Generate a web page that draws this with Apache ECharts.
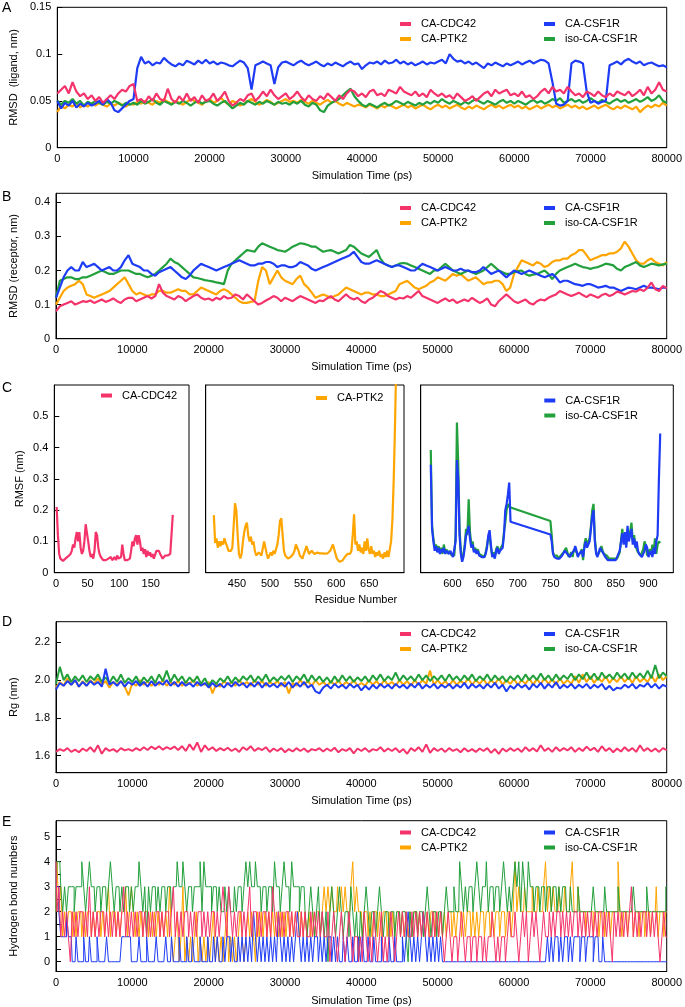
<!DOCTYPE html>
<html><head><meta charset="utf-8">
<script src="https://cdn.jsdelivr.net/npm/echarts@6.0.0/dist/echarts.min.js"></script>
<style>html,body{margin:0;padding:0;background:#fff}#c{width:685px;height:1007px}</style>
</head><body><div id="c"></div>
<script>
// ---------------- DATA ----------------
const seriesNames = ['CA-CDC42', 'CA-PTK2', 'CA-CSF1R', 'iso-CA-CSF1R'];
const timeTicks = [0, 10000, 20000, 30000, 40000, 50000, 60000, 70000, 80000];
const timeStepRMSD = 500;   // ps between samples (panels A, B, D)
const timeStepHB = 250;     // ps between samples (panel E)

// Panel A : RMSD (ligand, nm)
const rmsdLigCDC42 = [
0.058,0.062,0.066,0.058,0.07,0.06,0.055,0.058,0.052,0.056,0.05,0.054,0.048,0.052,0.056,0.052,0.058,0.062,0.06,0.066,
0.068,0.05,0.052,0.048,0.055,0.05,0.058,0.052,0.05,0.063,0.052,0.048,0.055,0.05,0.058,0.05,0.054,0.048,0.056,0.05,
0.052,0.058,0.05,0.054,0.06,0.05,0.045,0.048,0.052,0.05,0.056,0.058,0.05,0.054,0.06,0.055,0.062,0.056,0.052,0.055,
0.058,0.052,0.055,0.06,0.054,0.05,0.056,0.052,0.05,0.055,0.052,0.058,0.054,0.05,0.056,0.052,0.058,0.062,0.06,0.055,
0.058,0.054,0.06,0.062,0.056,0.058,0.055,0.062,0.06,0.058,0.065,0.06,0.058,0.056,0.06,0.055,0.058,0.054,0.062,0.058,
0.055,0.058,0.054,0.056,0.052,0.058,0.054,0.05,0.052,0.055,0.05,0.054,0.058,0.06,0.055,0.062,0.058,0.06,0.062,0.056,
0.058,0.055,0.06,0.054,0.056,0.052,0.055,0.06,0.063,0.058,0.065,0.06,0.062,0.058,0.065,0.06,0.056,0.058,0.054,0.06,
0.058,0.055,0.06,0.056,0.054,0.058,0.055,0.06,0.058,0.056,0.06,0.055,0.058,0.062,0.056,0.065,0.058,0.062,0.07,0.062,
0.06];
const rmsdLigPTK2 = [
0.038,0.045,0.042,0.046,0.044,0.048,0.043,0.046,0.044,0.047,0.045,0.048,0.046,0.044,0.047,0.045,0.048,0.046,0.044,0.047,
0.046,0.049,0.047,0.05,0.048,0.046,0.05,0.048,0.052,0.049,0.047,0.05,0.048,0.046,0.049,0.052,0.05,0.048,0.046,0.05,
0.052,0.048,0.05,0.053,0.049,0.046,0.05,0.048,0.045,0.047,0.05,0.052,0.049,0.046,0.048,0.051,0.049,0.046,0.048,0.05,
0.052,0.049,0.05,0.048,0.051,0.049,0.047,0.05,0.048,0.046,0.049,0.051,0.048,0.05,0.047,0.045,0.048,0.046,0.044,0.046,
0.045,0.043,0.046,0.044,0.042,0.045,0.043,0.046,0.044,0.042,0.044,0.046,0.043,0.045,0.042,0.044,0.046,0.043,0.041,0.044,
0.046,0.043,0.045,0.042,0.044,0.046,0.043,0.041,0.044,0.042,0.045,0.043,0.041,0.044,0.046,0.043,0.045,0.042,0.044,0.046,
0.043,0.045,0.042,0.044,0.041,0.043,0.045,0.042,0.044,0.046,0.043,0.045,0.042,0.044,0.046,0.043,0.045,0.042,0.044,0.041,
0.043,0.045,0.042,0.044,0.046,0.043,0.041,0.044,0.042,0.045,0.043,0.041,0.044,0.038,0.042,0.045,0.043,0.046,0.044,0.048,
0.045];
const rmsdLigCSF1R = [
0.05,0.042,0.048,0.045,0.05,0.043,0.047,0.044,0.048,0.045,0.047,0.05,0.046,0.052,0.048,0.04,0.038,0.042,0.046,0.05,
0.052,0.085,0.097,0.09,0.092,0.088,0.091,0.09,0.096,0.092,0.089,0.087,0.09,0.088,0.093,0.091,0.089,0.093,0.09,0.094,
0.09,0.092,0.089,0.091,0.09,0.088,0.087,0.09,0.093,0.091,0.085,0.062,0.088,0.09,0.092,0.09,0.088,0.068,0.086,0.091,
0.092,0.09,0.088,0.091,0.093,0.09,0.088,0.09,0.092,0.089,0.087,0.09,0.088,0.091,0.089,0.087,0.09,0.092,0.089,0.09,
0.084,0.088,0.091,0.09,0.092,0.089,0.093,0.09,0.091,0.094,0.09,0.092,0.089,0.091,0.088,0.09,0.092,0.089,0.091,0.09,
0.092,0.094,0.09,0.1,0.095,0.092,0.093,0.09,0.092,0.089,0.091,0.088,0.085,0.09,0.088,0.091,0.089,0.087,0.09,0.088,
0.09,0.092,0.089,0.091,0.093,0.09,0.092,0.094,0.093,0.09,0.07,0.047,0.045,0.046,0.05,0.09,0.093,0.092,0.09,0.06,
0.048,0.05,0.047,0.049,0.05,0.088,0.09,0.092,0.089,0.093,0.095,0.092,0.09,0.092,0.088,0.09,0.091,0.089,0.087,0.088,
0.086];
const rmsdLigIso = [
0.05,0.046,0.05,0.048,0.052,0.047,0.05,0.045,0.049,0.047,0.05,0.048,0.046,0.049,0.047,0.05,0.048,0.045,0.048,0.046,
0.048,0.046,0.05,0.047,0.049,0.052,0.048,0.046,0.05,0.048,0.046,0.049,0.047,0.05,0.048,0.045,0.048,0.05,0.047,0.049,
0.05,0.047,0.045,0.048,0.05,0.046,0.042,0.045,0.048,0.046,0.05,0.048,0.046,0.049,0.047,0.05,0.048,0.046,0.049,0.047,
0.048,0.046,0.049,0.047,0.05,0.046,0.044,0.048,0.046,0.04,0.038,0.045,0.048,0.05,0.052,0.056,0.06,0.063,0.055,0.05,
0.046,0.044,0.047,0.045,0.043,0.046,0.048,0.045,0.047,0.05,0.048,0.046,0.049,0.047,0.045,0.048,0.046,0.049,0.047,0.05,
0.048,0.052,0.049,0.047,0.05,0.048,0.046,0.049,0.047,0.05,0.052,0.049,0.047,0.05,0.048,0.046,0.049,0.051,0.048,0.05,
0.047,0.05,0.048,0.046,0.049,0.051,0.048,0.05,0.047,0.049,0.052,0.05,0.053,0.048,0.05,0.052,0.049,0.051,0.048,0.05,
0.053,0.05,0.048,0.051,0.049,0.047,0.05,0.052,0.049,0.051,0.048,0.05,0.052,0.049,0.051,0.054,0.05,0.052,0.056,0.05,
0.048];

// Panel B : RMSD (receptor, nm)
const rmsdRecCDC42 = [
0.08,0.095,0.1,0.105,0.11,0.1,0.105,0.11,0.108,0.112,0.105,0.11,0.115,0.108,0.112,0.118,0.11,0.105,0.115,0.12,
0.12,0.11,0.115,0.12,0.125,0.118,0.125,0.16,0.135,0.125,0.12,0.115,0.125,0.12,0.11,0.118,0.125,0.13,0.12,0.115,
0.118,0.112,0.12,0.115,0.125,0.118,0.12,0.13,0.125,0.115,0.13,0.12,0.11,0.1,0.105,0.112,0.118,0.125,0.12,0.11,
0.12,0.115,0.11,0.118,0.125,0.12,0.115,0.11,0.105,0.112,0.11,0.118,0.125,0.115,0.11,0.12,0.13,0.12,0.115,0.12,
0.11,0.105,0.115,0.12,0.13,0.14,0.135,0.125,0.12,0.115,0.12,0.118,0.125,0.12,0.13,0.14,0.125,0.12,0.115,0.11,
0.105,0.112,0.118,0.11,0.115,0.105,0.11,0.115,0.11,0.12,0.112,0.105,0.11,0.118,0.1,0.095,0.11,0.12,0.13,0.12,
0.11,0.105,0.11,0.115,0.105,0.1,0.11,0.115,0.112,0.12,0.125,0.13,0.14,0.135,0.13,0.125,0.13,0.135,0.128,0.122,
0.13,0.125,0.12,0.128,0.132,0.125,0.13,0.138,0.135,0.13,0.135,0.14,0.138,0.145,0.14,0.15,0.165,0.145,0.14,0.155,
0.148];
const rmsdRecPTK2 = [
0.1,0.12,0.14,0.15,0.155,0.16,0.17,0.16,0.13,0.125,0.12,0.125,0.13,0.135,0.14,0.15,0.16,0.17,0.18,0.16,
0.14,0.13,0.135,0.13,0.125,0.13,0.13,0.14,0.14,0.135,0.135,0.14,0.145,0.14,0.14,0.13,0.13,0.14,0.15,0.145,
0.14,0.135,0.13,0.14,0.145,0.14,0.13,0.12,0.11,0.105,0.105,0.108,0.11,0.17,0.21,0.2,0.16,0.18,0.2,0.18,
0.17,0.165,0.16,0.175,0.185,0.16,0.15,0.135,0.12,0.125,0.13,0.125,0.12,0.125,0.13,0.14,0.15,0.145,0.14,0.135,
0.13,0.135,0.135,0.13,0.13,0.125,0.125,0.13,0.135,0.14,0.16,0.165,0.17,0.16,0.15,0.145,0.15,0.155,0.165,0.17,
0.18,0.175,0.17,0.18,0.19,0.185,0.19,0.18,0.17,0.175,0.18,0.17,0.16,0.165,0.165,0.17,0.17,0.16,0.14,0.15,
0.19,0.21,0.23,0.225,0.22,0.215,0.225,0.22,0.21,0.215,0.225,0.23,0.23,0.235,0.235,0.245,0.25,0.26,0.26,0.245,
0.23,0.235,0.24,0.245,0.245,0.25,0.25,0.255,0.265,0.285,0.27,0.25,0.23,0.22,0.22,0.23,0.235,0.225,0.22,0.215,
0.225];
const rmsdRecCSF1R = [
0.12,0.15,0.18,0.2,0.21,0.2,0.2,0.225,0.21,0.215,0.22,0.21,0.2,0.205,0.21,0.2,0.2,0.21,0.23,0.245,
0.22,0.215,0.21,0.2,0.2,0.19,0.185,0.195,0.2,0.205,0.21,0.2,0.19,0.18,0.175,0.185,0.2,0.21,0.22,0.215,
0.21,0.205,0.2,0.205,0.21,0.215,0.22,0.225,0.23,0.225,0.22,0.215,0.215,0.22,0.22,0.225,0.225,0.22,0.21,0.215,
0.215,0.21,0.21,0.215,0.225,0.22,0.215,0.205,0.2,0.205,0.21,0.215,0.22,0.225,0.23,0.235,0.24,0.245,0.255,0.24,
0.225,0.22,0.22,0.225,0.23,0.225,0.22,0.215,0.21,0.215,0.215,0.21,0.205,0.2,0.2,0.21,0.22,0.215,0.21,0.205,
0.2,0.205,0.21,0.205,0.2,0.2,0.205,0.2,0.2,0.195,0.195,0.2,0.21,0.2,0.19,0.195,0.2,0.19,0.18,0.19,
0.2,0.195,0.19,0.195,0.2,0.195,0.19,0.185,0.18,0.185,0.19,0.18,0.165,0.17,0.17,0.165,0.16,0.158,0.155,0.16,
0.16,0.155,0.15,0.152,0.155,0.15,0.15,0.145,0.14,0.145,0.15,0.148,0.145,0.15,0.155,0.15,0.15,0.148,0.145,0.15,
0.15];
const rmsdRecIso = [
0.12,0.17,0.175,0.18,0.18,0.175,0.175,0.18,0.18,0.185,0.19,0.195,0.2,0.195,0.19,0.19,0.195,0.2,0.2,0.2,
0.195,0.19,0.19,0.185,0.18,0.185,0.19,0.2,0.21,0.22,0.235,0.225,0.22,0.21,0.2,0.19,0.18,0.178,0.175,0.172,
0.17,0.168,0.165,0.163,0.16,0.2,0.22,0.23,0.24,0.25,0.26,0.258,0.255,0.27,0.28,0.275,0.27,0.265,0.26,0.258,
0.255,0.262,0.27,0.275,0.28,0.278,0.275,0.27,0.27,0.262,0.255,0.258,0.26,0.255,0.25,0.255,0.26,0.275,0.27,0.26,
0.25,0.245,0.24,0.25,0.26,0.235,0.22,0.215,0.21,0.215,0.22,0.222,0.22,0.215,0.21,0.205,0.2,0.195,0.19,0.2,
0.2,0.21,0.22,0.21,0.2,0.195,0.19,0.195,0.2,0.195,0.19,0.195,0.2,0.21,0.22,0.21,0.2,0.195,0.19,0.19,
0.195,0.198,0.2,0.19,0.185,0.188,0.19,0.195,0.2,0.19,0.175,0.19,0.2,0.205,0.21,0.215,0.22,0.215,0.21,0.208,
0.205,0.208,0.21,0.215,0.22,0.218,0.215,0.205,0.2,0.21,0.215,0.22,0.225,0.215,0.21,0.215,0.22,0.218,0.215,0.218,
0.22];

// Panel C : RMSF (nm) per residue
const residueStep = 2;
const cdc42StartResidue = 1;
const rmsfCDC42 = [
0.21,0.12,0.06,0.045,0.04,0.038,0.042,0.045,0.05,0.052,
0.055,0.06,0.07,0.09,0.08,0.11,0.13,0.1,0.13,0.08,
0.06,0.07,0.1,0.155,0.15,0.1,0.07,0.05,0.06,0.045,
0.07,0.13,0.12,0.08,0.06,0.05,0.045,0.04,0.035,0.04,
0.038,0.045,0.04,0.05,0.04,0.045,0.05,0.04,0.055,0.045,
0.04,0.05,0.09,0.06,0.04,0.035,0.04,0.038,0.045,0.07,
0.1,0.085,0.11,0.12,0.09,0.12,0.1,0.07,0.08,0.06,
0.075,0.05,0.07,0.055,0.065,0.05,0.06,0.045,0.05,0.07,
0.075,0.07,0.06,0.065,0.045,0.05,0.055,0.05,0.055,0.06,
0.06,0.065,0.185];
const ptk2StartResidue = 415;
const rmsfPTK2 = [
0.184,0.095,0.11,0.08,0.1,0.085,0.1,0.09,0.11,0.095,
0.085,0.07,0.068,0.07,0.08,0.15,0.222,0.2,0.12,0.06,
0.046,0.06,0.1,0.13,0.15,0.16,0.12,0.1,0.115,0.09,
0.1,0.07,0.055,0.05,0.065,0.07,0.055,0.06,0.1,0.095,
0.06,0.045,0.05,0.065,0.055,0.07,0.06,0.065,0.09,0.12,
0.165,0.174,0.12,0.07,0.055,0.05,0.045,0.04,0.05,0.055,
0.06,0.07,0.09,0.092,0.07,0.055,0.05,0.045,0.06,0.07,
0.085,0.088,0.06,0.055,0.07,0.065,0.06,0.062,0.064,0.063,
0.062,0.061,0.062,0.06,0.061,0.06,0.062,0.063,0.07,0.08,
0.09,0.085,0.06,0.045,0.04,0.035,0.04,0.038,0.042,0.05,
0.055,0.06,0.065,0.06,0.07,0.12,0.187,0.09,0.1,0.07,
0.09,0.065,0.08,0.06,0.1,0.07,0.11,0.075,0.06,0.085,
0.06,0.07,0.05,0.065,0.055,0.07,0.05,0.06,0.045,0.065,
0.05,0.07,0.05,0.075,0.1,0.17,0.3,0.48,0.7];
// CSF1R residues are in two resolved segments [first, last]
const csfSegments = [[567, 689], [750, 918]];
const rmsfCSF1R = [
0.345,0.14,0.1,0.07,0.085,0.065,0.08,0.06,0.075,0.065,
0.08,0.06,0.07,0.065,0.06,0.07,0.06,0.05,0.05,0.1,
0.36,0.3,0.12,0.06,0.035,0.05,0.08,0.12,0.13,0.15,
0.11,0.08,0.09,0.065,0.075,0.06,0.07,0.055,0.06,0.05,
0.055,0.05,0.06,0.08,0.12,0.136,0.09,0.05,0.06,0.045,
0.07,0.08,0.06,0.07,0.065,0.08,0.12,0.2,0.22,0.25,0.288,0.163,
0.122,0.1,0.06,0.05,0.055,0.045,0.05,0.045,0.05,0.055,
0.06,0.07,0.075,0.06,0.055,0.05,0.06,0.055,0.07,0.085,
0.07,0.05,0.06,0.055,0.07,0.05,0.08,0.1,0.08,0.09,
0.1,0.14,0.18,0.2,0.1,0.06,0.05,0.065,0.08,0.075,
0.065,0.06,0.05,0.045,0.04,0.035,0.04,0.035,0.04,0.045,
0.04,0.05,0.06,0.07,0.07,0.126,0.09,0.13,0.08,0.15,
0.1,0.12,0.14,0.09,0.11,0.08,0.1,0.07,0.06,0.055,
0.05,0.06,0.07,0.09,0.08,0.05,0.06,0.07,0.05,0.08,
0.06,0.1,0.12,0.3,0.445];
const rmsfIso = [
0.392,0.15,0.11,0.08,0.09,0.07,0.085,0.065,0.08,0.06,
0.09,0.065,0.075,0.06,0.07,0.075,0.055,0.06,0.055,0.12,
0.48,0.35,0.14,0.07,0.04,0.06,0.09,0.14,0.12,0.235,
0.13,0.09,0.1,0.07,0.08,0.065,0.075,0.06,0.065,0.055,
0.06,0.05,0.065,0.07,0.11,0.12,0.08,0.055,0.065,0.05,
0.075,0.085,0.065,0.075,0.07,0.09,0.13,0.16,0.2,0.22,0.21,0.206,
0.165,0.12,0.065,0.055,0.05,0.055,0.045,0.05,0.055,0.05,
0.065,0.06,0.08,0.065,0.05,0.055,0.065,0.05,0.075,0.08,
0.065,0.055,0.05,0.065,0.075,0.04,0.09,0.11,0.09,0.1,
0.11,0.15,0.2,0.22,0.11,0.065,0.055,0.06,0.07,0.085,
0.07,0.06,0.065,0.055,0.05,0.045,0.04,0.045,0.04,0.045,
0.04,0.045,0.055,0.065,0.06,0.14,0.1,0.12,0.09,0.14,
0.11,0.13,0.16,0.1,0.12,0.09,0.075,0.065,0.06,0.055,
0.065,0.075,0.1,0.085,0.055,0.065,0.075,0.06,0.09,0.065,
0.11,0.06,0.09,0.1,0.095];

// Panel D : Rg (nm)
const rgCDC42 = [
1.62,1.635,1.625,1.64,1.62,1.632,1.618,1.638,1.625,1.645,1.62,1.655,1.61,1.64,1.625,1.635,1.62,1.64,1.628,1.635,
1.625,1.64,1.628,1.645,1.63,1.648,1.635,1.65,1.632,1.645,1.635,1.648,1.63,1.65,1.625,1.66,1.63,1.67,1.62,1.655,
1.63,1.645,1.625,1.64,1.628,1.642,1.625,1.638,1.62,1.645,1.63,1.65,1.625,1.64,1.63,1.645,1.62,1.638,1.625,1.64,
1.618,1.635,1.622,1.64,1.625,1.638,1.62,1.635,1.628,1.64,1.622,1.638,1.625,1.642,1.618,1.635,1.625,1.64,1.612,1.638,
1.625,1.64,1.62,1.635,1.628,1.645,1.622,1.638,1.625,1.64,1.618,1.635,1.61,1.64,1.625,1.645,1.62,1.66,1.615,1.64,
1.625,1.638,1.62,1.64,1.625,1.635,1.618,1.64,1.622,1.635,1.62,1.638,1.625,1.64,1.615,1.635,1.61,1.638,1.622,1.64,
1.625,1.638,1.62,1.645,1.625,1.64,1.622,1.655,1.625,1.64,1.62,1.645,1.625,1.64,1.628,1.645,1.62,1.64,1.625,1.648,
1.628,1.642,1.62,1.65,1.625,1.64,1.618,1.638,1.622,1.645,1.625,1.64,1.62,1.655,1.625,1.64,1.622,1.638,1.62,1.64,
1.63];
const rgPTK2 = [
1.96,1.99,1.97,2.01,1.975,2.0,1.965,1.995,1.97,2.0,1.98,2.01,1.975,1.995,1.96,1.99,1.975,1.995,1.965,1.92,
1.985,1.97,2.0,1.975,1.995,1.97,1.99,1.975,2.0,1.97,1.99,1.975,1.995,1.97,1.99,1.98,2.0,1.97,1.985,1.975,
1.99,1.93,1.98,1.965,1.995,1.975,1.99,1.97,2.0,1.975,1.99,1.97,2.0,1.975,1.995,1.97,1.99,1.975,1.995,1.97,
1.99,1.93,1.985,1.97,2.0,1.975,1.995,1.97,2.0,1.975,1.99,1.97,1.995,1.975,2.0,1.97,1.99,1.975,2.0,1.97,
1.985,1.97,2.0,1.975,1.995,1.97,2.0,1.975,1.99,1.97,2.0,1.975,1.995,1.97,2.0,1.975,2.0,1.98,2.05,1.975,
2.0,1.975,1.995,1.97,2.0,1.975,1.995,1.98,2.01,1.975,2.0,1.98,2.005,1.975,2.0,1.98,2.01,1.975,2.0,1.98,
2.005,1.975,2.0,1.98,2.01,1.975,2.005,1.98,2.01,1.98,2.005,1.975,2.01,1.98,2.0,1.98,2.02,1.985,2.03,1.99,
2.02,1.985,2.015,1.99,2.02,1.985,2.01,1.99,2.02,1.99,2.015,1.985,2.02,1.99,2.01,1.99,2.025,1.99,2.03,2.0,
2.02];
const rgCSF1R = [
1.95,1.985,1.97,1.995,1.975,2.0,1.965,1.99,1.97,1.995,1.975,1.99,1.965,2.06,1.975,1.99,1.97,1.995,1.965,1.99,
1.975,1.995,1.97,1.99,1.965,1.995,1.97,1.99,1.975,2.0,1.97,1.99,1.965,1.99,1.97,1.985,1.965,1.99,1.97,1.985,
1.96,1.985,1.965,1.98,1.96,1.985,1.965,1.99,1.97,1.985,1.96,1.985,1.965,1.99,1.96,1.985,1.965,1.98,1.96,1.985,
1.965,1.99,1.96,1.985,1.965,1.99,1.96,1.975,1.94,1.93,1.96,1.975,1.955,1.98,1.96,1.975,1.955,1.98,1.96,1.975,
1.945,1.97,1.95,1.975,1.955,1.98,1.96,1.975,1.955,1.98,1.96,1.975,1.955,1.98,1.96,1.985,1.955,1.975,1.96,1.98,
1.955,1.975,1.96,1.98,1.955,1.975,1.96,1.985,1.955,1.98,1.96,1.975,1.955,1.98,1.96,1.985,1.955,1.975,1.94,1.97,
1.955,1.98,1.96,1.975,1.95,1.98,1.96,1.985,1.955,1.98,1.96,1.99,1.955,1.975,1.96,1.98,1.955,1.975,1.96,1.98,
1.955,1.975,1.96,1.98,1.95,1.97,1.945,1.96,1.955,1.975,1.96,1.98,1.955,1.975,1.965,1.985,1.96,1.98,1.955,1.975,
1.965];
const rgIso = [
1.98,2.07,2.0,2.03,1.99,2.02,1.995,2.025,1.99,2.02,2.0,2.03,1.99,2.015,1.985,2.02,1.99,2.03,1.985,2.01,
1.99,2.02,1.98,2.015,1.99,2.02,1.985,2.03,1.995,2.05,1.99,2.03,1.995,2.02,1.985,2.015,1.99,2.02,1.98,2.01,
1.97,2.0,1.98,2.01,1.99,2.02,1.985,2.015,1.99,2.02,2.0,2.025,1.99,2.02,1.995,2.03,1.99,2.015,1.995,2.02,
2.0,2.025,1.99,2.02,2.0,2.03,1.99,2.025,1.995,2.02,1.99,2.015,1.985,2.02,1.99,2.025,1.995,2.02,1.99,2.015,
1.995,2.02,1.99,2.025,2.0,2.03,1.995,2.02,2.0,2.04,1.995,2.025,2.0,2.02,1.995,2.03,2.0,2.025,1.995,2.02,
2.0,2.025,1.995,2.03,2.0,2.02,1.995,2.025,2.0,2.03,1.995,2.02,2.0,2.03,1.995,2.025,2.0,2.02,1.99,2.02,
2.0,2.025,1.995,2.03,2.0,2.025,2.0,2.035,2.0,2.025,1.995,2.03,2.0,2.025,2.005,2.035,2.0,2.03,2.005,2.04,
2.005,2.035,2.0,2.04,2.01,2.03,2.005,2.04,2.01,2.035,2.005,2.04,2.01,2.035,2.01,2.05,2.01,2.08,2.01,2.04,
2.02];

// Panel E : Hydrogen bond numbers
const hbCDC42 = [
4,2,3,1,2,1,2,1,0,2,1,2,1,2,2,1,2,1,3,1,
2,1,2,1,2,2,1,2,1,2,1,2,1,2,1,2,3,1,2,1,
2,1,2,1,2,2,1,2,1,2,1,2,1,2,2,1,2,1,2,2,
1,2,3,1,2,1,2,1,2,2,1,2,1,2,1,2,2,1,2,1,
2,1,2,2,1,2,1,2,3,2,1,3,2,1,2,1,2,2,1,2,
1,2,3,1,2,2,1,2,1,2,2,1,2,1,3,2,1,2,1,2,
1,2,2,1,2,1,2,1,1,2,1,2,1,1,2,1,2,1,2,1,
2,1,1,2,0,1,2,1,0,1,2,1,0,1,2,1,0,1,1,0,
1,0,2,1,0,1,0,2,1,0,1,2,0,1,0,1,2,1,0,1,
2,1,2,1,2,1,1,2,1,2,1,2,1,2,1,2,1,1,2,1,
2,1,2,1,0,1,2,1,0,1,1,0,1,2,1,0,1,1,0,1,
1,0,1,1,0,1,0,1,1,2,1,0,1,0,1,1,0,1,2,1,
1,2,1,0,1,2,1,2,0,1,2,1,2,1,0,1,2,1,1,2,
1,2,1,2,2,1,2,1,2,1,2,1,2,2,1,2,1,2,1,2,
1,2,1,2,1,2,2,1,2,1,2,1,0,2,1,2,1,2,1,2,
1,2,3,1,2,1,2,1,2,2,1,2,1,2,1,2,1,0,1,2,
1];
const hbPTK2 = [
2,4,2,3,1,2,1,2,2,1,2,1,2,2,1,2,1,2,2,1,
2,1,2,2,1,2,1,2,3,1,2,2,1,2,1,2,2,3,1,2,
3,2,1,2,1,2,1,2,2,1,2,1,2,1,2,1,2,1,2,1,
3,1,0,1,2,0,1,3,0,1,0,1,0,1,2,0,1,0,1,0,
1,0,1,2,0,1,0,1,0,1,2,0,1,0,1,0,1,2,1,0,
1,2,1,2,1,0,2,1,2,1,2,1,2,1,2,1,2,1,2,1,
2,1,2,1,2,1,2,2,1,2,1,2,1,2,1,2,1,2,2,1,
2,3,2,3,2,3,2,2,3,2,3,2,3,2,2,3,4,2,3,2,
2,1,2,2,1,2,1,2,2,1,2,1,2,2,1,2,1,2,1,2,
2,1,2,1,2,1,2,1,2,2,1,2,1,2,1,2,1,2,2,1,
2,1,2,1,2,1,2,2,1,2,1,2,2,1,2,1,2,2,1,2,
1,2,1,2,2,1,2,2,1,2,1,2,2,1,2,2,1,2,2,1,
2,4,2,3,2,2,3,2,2,2,3,2,2,3,2,2,3,4,2,3,
2,3,2,2,3,2,2,3,2,2,3,4,2,2,3,2,2,2,1,2,
2,2,1,2,2,1,2,2,1,2,2,1,2,2,2,4,2,1,2,2,
1,2,2,1,2,2,1,2,2,1,2,2,1,2,2,3,1,2,2,1,
2];
const hbCSF1R = [
3,3,2,1,1,1,2,1,1,0,0,1,0,0,0,1,0,0,1,0,
0,0,1,0,0,0,0,1,0,0,0,0,0,0,0,1,1,1,1,1,
0,0,0,0,1,0,0,0,1,0,0,0,0,1,0,0,0,0,1,0,
0,1,0,0,0,1,0,0,0,1,0,0,1,0,0,0,1,0,0,0,
1,0,0,1,0,1,0,0,1,0,1,1,0,1,0,0,1,0,1,0,
1,0,1,0,2,1,0,1,0,1,0,1,0,1,0,1,0,2,1,0,
1,0,1,0,1,0,1,2,1,0,1,0,1,0,1,0,1,1,0,1,
0,1,0,1,1,0,1,0,1,0,0,1,0,1,0,0,1,0,0,1,
0,1,0,0,1,0,0,1,0,0,0,1,0,0,0,1,0,0,1,0,
0,0,1,0,1,2,1,0,1,0,1,0,1,2,1,0,1,0,1,0,
1,0,1,0,0,0,0,0,0,0,0,0,0,0,0,0,0,0,0,0,
0,0,0,0,0,0,0,0,0,0,0,0,0,0,0,0,0,0,0,0,
0,0,0,0,0,0,0,0,0,0,0,0,0,0,0,0,0,0,1,0,
1,0,1,1,0,1,0,1,1,0,1,0,1,1,1,0,1,1,0,1,
1,1,0,1,1,0,0,1,0,0,0,0,0,0,0,0,0,0,0,0,
0,0,0,0,0,0,0,0,0,0,0,0,0,0,0,0,0,0,0,0,
0];
const hbIso = [
2,4,4,3,2,3,2,3,3,3,2,3,3,3,4,3,2,3,4,3,
3,2,3,3,2,3,3,2,3,4,3,2,3,3,2,3,2,3,3,2,
3,2,3,3,4,3,2,3,1,3,2,3,3,2,3,2,3,3,2,3,
3,2,3,3,4,3,3,4,3,2,3,3,2,3,3,3,4,2,4,3,
3,3,2,3,3,2,3,2,2,3,2,3,2,2,3,2,3,3,2,3,
4,3,4,3,3,4,3,3,2,3,3,2,3,3,2,4,3,3,2,3,
4,3,3,2,4,3,3,3,2,3,3,2,1,2,3,2,1,2,3,1,
2,1,2,0,2,3,2,1,2,3,2,1,2,2,1,3,2,1,2,0,
2,1,2,3,2,1,2,2,1,2,3,2,1,2,2,1,2,2,1,2,
2,1,2,2,1,0,2,1,2,2,1,2,2,1,2,3,2,1,2,2,
1,2,2,1,2,3,2,2,2,3,2,2,4,3,2,3,2,3,3,2,
3,4,3,2,3,3,4,2,3,3,2,3,3,2,3,4,3,2,3,2,
3,4,3,4,2,4,3,2,4,3,3,2,3,3,2,3,3,2,3,3,
2,3,3,2,3,2,3,3,2,2,3,2,2,2,3,2,2,2,2,2,
2,2,3,2,2,2,2,2,3,2,2,2,2,2,2,3,2,2,2,2,
2,2,2,3,2,2,2,2,2,2,3,2,2,2,2,2,2,2,2,2,
3];

// ---------------- STYLE ----------------
const COLORS = {'CA-CDC42':'#F5336B','CA-PTK2':'#FFA500','CA-CSF1R':'#1E3CF5','iso-CA-CSF1R':'#22A03C'};
const FONT = '"Liberation Sans", Arial, Helvetica, sans-serif';
const txt = {fontSize:11, color:'#000', fontFamily:FONT};

const grids=[], xAxes=[], yAxes=[], series=[], legends=[];

function timeSeries(vals, step){ return vals.map((v,i)=>[i*step, v]); }
function residueSeries(vals, start, step){ return vals.map((v,i)=>[start+i*step, v]); }
function segmentSeries(vals, segs, step){
  const xs=[]; segs.forEach(s=>{ for(let r=s[0]; r<=s[1]; r+=step) xs.push(r); });
  return vals.map((v,i)=>[xs[i], v]);
}

function addGrid(box, xa, ya){
  const gi = grids.length;
  grids.push(Object.assign({show:true, borderColor:'#000', borderWidth:1, backgroundColor:'transparent'}, box));
  xAxes.push(Object.assign({
    type:'value', gridIndex:gi, nameLocation:'middle', nameTextStyle:txt,
    axisLine:{show:true, onZero:false, lineStyle:{color:'#000', width:1}},
    axisTick:{show:false}, splitLine:{show:false}
  }, xa));
  yAxes.push(Object.assign({
    type:'value', gridIndex:gi, nameLocation:'middle', nameRotate:90, nameTextStyle:txt,
    axisLine:{show:true, onZero:false, lineStyle:{color:'#000', width:1}},
    splitLine:{show:false}
  }, ya));
  return gi;
}
function xLab(values){ return Object.assign({customValues:values, margin:6, formatter:v=>String(v)}, txt); }
function yLab(values, fmt){ const o = Object.assign({customValues:values, margin:6, formatter:v=>String(v)}, txt); if(fmt) o.formatter=fmt; return o; }
function yTick(values){ return {show:true, inside:true, length:5, customValues:values, lineStyle:{color:'#000', width:1}}; }

function line(gi, name, data, width, step){
  const s = {type:'line', name, xAxisIndex:gi, yAxisIndex:gi, data, symbol:'none', showSymbol:false,
    lineStyle:{color:COLORS[name], width}, itemStyle:{color:COLORS[name]}, clip:true, silent:true, animation:false};
  if(step) s.step = step;
  series.push(s);
}
function legend(left, top, names){
  legends.push({orient:'vertical', left, top, padding:0, itemGap:0, itemWidth:11, itemHeight:4, icon:'rect',
    selectedMode:false, data:names,
    textStyle:{fontSize:11, color:'#000', fontFamily:FONT, lineHeight:15, padding:[0,0,0,5]}});
}

const R = 672.5;
// ----- Panel A -----
let g = addGrid({left:54.3, top:7.3, width:R-54.3, height:140.4},
  {min:0, max:80000, name:'Simulation Time (ps)', nameGap:23, axisLabel:xLab(timeTicks)},
  {min:0, max:0.15, name:'RMSD  (ligand, nm)', nameGap:37, axisLabel:yLab([0,0.05,0.1,0.15]), axisTick:yTick([0.05,0.1,0.15])});
line(g,'CA-PTK2',timeSeries(rmsdLigPTK2,timeStepRMSD),2.2);
line(g,'iso-CA-CSF1R',timeSeries(rmsdLigIso,timeStepRMSD),2.2);
line(g,'CA-CSF1R',timeSeries(rmsdLigCSF1R,timeStepRMSD),2.2);
line(g,'CA-CDC42',timeSeries(rmsdLigCDC42,timeStepRMSD),2.2);
legend(400, 16.5, ['CA-CDC42','CA-PTK2']);
legend(544, 16.5, ['CA-CSF1R','iso-CA-CSF1R']);

// ----- Panel B -----
g = addGrid({left:54.3, top:193.3, width:R-54.3, height:145.4},
  {min:0, max:80000, name:'Simulation Time (ps)', nameGap:22.5, axisLabel:xLab(timeTicks)},
  {min:0, max:0.4265, name:'RMSD (receptor, nm)', nameGap:37, axisLabel:yLab([0,0.1,0.2,0.3,0.4]), axisTick:yTick([0.1,0.2,0.3,0.4])});
line(g,'CA-PTK2',timeSeries(rmsdRecPTK2,timeStepRMSD),2.2);
line(g,'iso-CA-CSF1R',timeSeries(rmsdRecIso,timeStepRMSD),2.2);
line(g,'CA-CSF1R',timeSeries(rmsdRecCSF1R,timeStepRMSD),2.2);
line(g,'CA-CDC42',timeSeries(rmsdRecCDC42,timeStepRMSD),2.2);
legend(400, 200.5, ['CA-CDC42','CA-PTK2']);
legend(544, 200.5, ['CA-CSF1R','iso-CA-CSF1R']);

// ----- Panel C -----
const cTop = 385, cH = 187.7;
g = addGrid({left:54.3, top:cTop, width:134.7, height:cH},
  {min:-2.7, max:210.7, axisLabel:xLab([0,50,100,150])},
  {min:0, max:0.6, name:'RMSF (nm)', nameGap:29, axisLabel:yLab([0,0.1,0.2,0.3,0.4,0.5]), axisTick:yTick([0.1,0.2,0.3,0.4,0.5])});
line(g,'CA-CDC42',residueSeries(rmsfCDC42,cdc42StartResidue,residueStep),2.2);
legend(101, 388, ['CA-CDC42']);
g = addGrid({left:205.7, top:cTop, width:198.3, height:cH},
  {min:402.7, max:702.5, axisLabel:xLab([450,500,550,600,650])},
  {min:0, max:0.6, axisLabel:{show:false}, axisTick:{show:false}});
line(g,'CA-PTK2',residueSeries(rmsfPTK2,ptk2StartResidue,residueStep),2.2);
legend(316, 390.5, ['CA-PTK2']);
g = addGrid({left:420.7, top:cTop, width:673.3-420.7, height:cH},
  {min:551.6, max:938, axisLabel:xLab([600,650,700,750,800,850,900])},
  {min:0, max:0.6, axisLabel:{show:false}, axisTick:{show:false}});
line(g,'iso-CA-CSF1R',segmentSeries(rmsfIso,csfSegments,residueStep),2.2);
line(g,'CA-CSF1R',segmentSeries(rmsfCSF1R,csfSegments,residueStep),2.2);
legend(544.3, 393, ['CA-CSF1R','iso-CA-CSF1R']);

// ----- Panel D -----
g = addGrid({left:55.7, top:621.7, width:R-55.7, height:151},
  {min:0, max:80000, name:'Simulation Time (ps)', nameGap:23, axisLabel:xLab(timeTicks)},
  {min:1.51, max:2.309, name:'Rg (nm)', nameGap:37, axisLabel:yLab([1.6,1.8,2.0,2.2], v=>Number(v).toFixed(1)), axisTick:yTick([1.6,1.8,2.0,2.2])});
line(g,'CA-PTK2',timeSeries(rgPTK2,timeStepRMSD),2);
line(g,'iso-CA-CSF1R',timeSeries(rgIso,timeStepRMSD),2);
line(g,'CA-CSF1R',timeSeries(rgCSF1R,timeStepRMSD),2);
line(g,'CA-CDC42',timeSeries(rgCDC42,timeStepRMSD),2);
legend(400, 626.5, ['CA-CDC42','CA-PTK2']);
legend(544, 626.5, ['CA-CSF1R','iso-CA-CSF1R']);

// ----- Panel E -----
g = addGrid({left:55.7, top:820.7, width:R-55.7, height:151.3},
  {min:0, max:80000, name:'Simulation Time (ps)', nameGap:23.5, axisLabel:xLab(timeTicks)},
  {min:-0.39, max:5.64, name:'Hydrogen bond numbers', nameGap:37, axisLabel:yLab([0,1,2,3,4,5]), axisTick:yTick([0,0.5,1,1.5,2,2.5,3,3.5,4,4.5,5])});
line(g,'CA-PTK2',timeSeries(hbPTK2,timeStepHB),1,'middle');
line(g,'iso-CA-CSF1R',timeSeries(hbIso,timeStepHB),1,'middle');
line(g,'CA-CSF1R',timeSeries(hbCSF1R,timeStepHB),1,'middle');
line(g,'CA-CDC42',timeSeries(hbCDC42,timeStepHB),1,'middle');
legend(400, 825, ['CA-CDC42','CA-PTK2']);
legend(544, 825, ['CA-CSF1R','iso-CA-CSF1R']);

const letterStyle = {fontSize:14, fill:'#000', fontFamily:FONT};
const graphic = [
  {type:'text', left:2, top:1.5, style:Object.assign({text:'A'}, letterStyle)},
  {type:'text', left:2, top:190.5, style:Object.assign({text:'B'}, letterStyle)},
  {type:'text', left:2, top:381.5, style:Object.assign({text:'C'}, letterStyle)},
  {type:'text', left:2, top:615, style:Object.assign({text:'D'}, letterStyle)},
  {type:'text', left:2, top:815, style:Object.assign({text:'E'}, letterStyle)},
  {type:'text', x:356, y:600, style:{text:'Residue Number', fontSize:11, fill:'#000', fontFamily:FONT, align:'center', verticalAlign:'middle'}}
];

const chart = echarts.init(document.getElementById('c'), null, {renderer:'canvas'});
chart.setOption({
  animation:false, backgroundColor:'#fff',
  grid:grids, xAxis:xAxes, yAxis:yAxes, series, legend:legends, graphic
});
</script></body></html>
